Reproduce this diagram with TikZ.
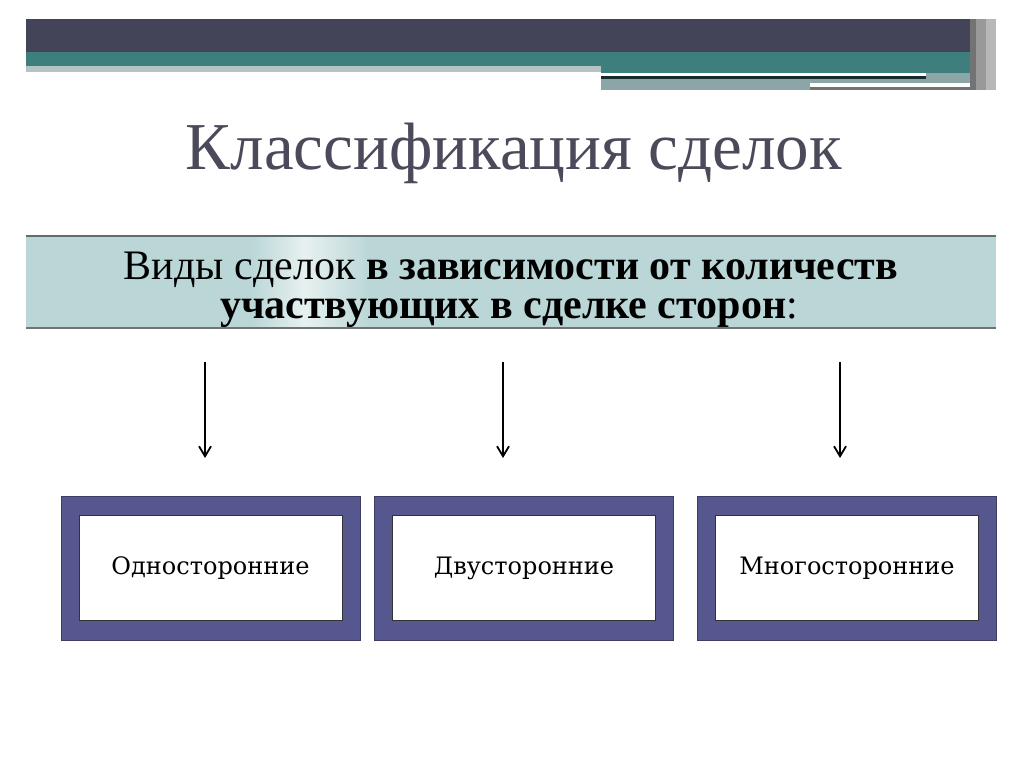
\documentclass[tikz,border=0pt]{standalone}
\usepackage{fontspec}
\setmainfont{Liberation Serif}
\newfontfamily\boxfont{DejaVu Serif}
\usetikzlibrary{arrows.meta}
\definecolor{darkbar}{HTML}{434458}
\definecolor{tealbar}{HTML}{3E7F7E}
\definecolor{graytl}{HTML}{8CA6A8}
\definecolor{lightstrip}{HTML}{B4C4C2}
\definecolor{headfill}{HTML}{BAD6D6}
\definecolor{headline}{HTML}{5E6E6E}
\definecolor{titlecol}{HTML}{4A4A5A}
\definecolor{purp}{HTML}{575790}
\tikzset{
  outerbox/.style={draw=purp!70!black, line width=0.8pt, fill=purp, minimum width=299pt, minimum height=144pt, inner sep=0pt},
  innerbox/.style={draw=black!80, line width=0.8pt, fill=white, minimum width=263pt, minimum height=105pt, inner sep=0pt, font=\boxfont\fontsize{24}{28}\selectfont},
  arr/.style={line width=1.8pt, -{Straight Barb[length=10pt,width=12pt,line width=1.8pt]}}
}
\begin{document}
\begin{tikzpicture}[x=1pt,y=-1pt]
\useasboundingbox (0,0) rectangle (1024,767);
\fill[white] (0,0) rectangle (1024,767);
% top band
\fill[darkbar] (26,19) rectangle (970,52);
\fill[tealbar] (26,52) rectangle (982,66);
\fill[lightstrip] (26,66) rectangle (601,72);
\fill[tealbar] (601,66) rectangle (982,73);
\fill[white] (601,73) rectangle (926,76);
\fill[black!65!tealbar] (601,76) rectangle (926,79);
\fill[graytl] (926,73) rectangle (982,79);
\fill[graytl] (601,79) rectangle (996,90);
\fill[white] (810,83) rectangle (980,87);
\fill[black!55] (810,87) rectangle (980,90);
\fill[black!55!white] (970,19) rectangle (976,90);
\fill[black!40!white] (976,19) rectangle (986,90);
\fill[black!28!white] (986,19) rectangle (996,90);
% title
\node[anchor=base, text=titlecol, font=\fontsize{67}{72}\selectfont, inner sep=0pt] (title) at (514,170) {Классификация сделок};
% header box
\node[draw=none, fill=headfill, minimum width=970pt, minimum height=92pt, inner sep=0pt, anchor=north west] (head) at (26,236) {};
\shade[left color=headfill, right color=white!65!headfill] (250,237) rectangle (305,327);
\shade[left color=white!65!headfill, right color=headfill] (305,237) rectangle (370,327);
\draw[headline, line width=1.5pt] (head.north west) -- (head.north east);
\draw[black!55, line width=2pt] (head.south west) -- (head.south east);
\node[anchor=base, inner sep=0pt, font=\fontsize{42}{42}\selectfont] (l1) at (511,279) {Виды сделок \textbf{в зависимости от количеств}};
\node[anchor=base, inner sep=0pt, font=\fontsize{42}{42}\selectfont] (l2) at (509,318) {\textbf{участвующих в сделке сторон}:};
% boxes
\node[outerbox] (o1) at (210.5,568) {};
\node[outerbox] (o2) at (524,568) {};
\node[outerbox] (o3) at (847,568) {};
\node[innerbox] (b1) at (210.5,568) {Односторонние};
\node[innerbox] (b2) at (524,568) {Двусторонние};
\node[innerbox] (b3) at (847,568) {Многосторонние};
% arrows
\coordinate (s1) at (205,362); \coordinate (e1) at (205,458);
\coordinate (s2) at (503,362); \coordinate (e2) at (503,458);
\coordinate (s3) at (840,362); \coordinate (e3) at (840,458);
\draw[arr] (s1) -- (e1);
\draw[arr] (s2) -- (e2);
\draw[arr] (s3) -- (e3);
\end{tikzpicture}
\end{document}
